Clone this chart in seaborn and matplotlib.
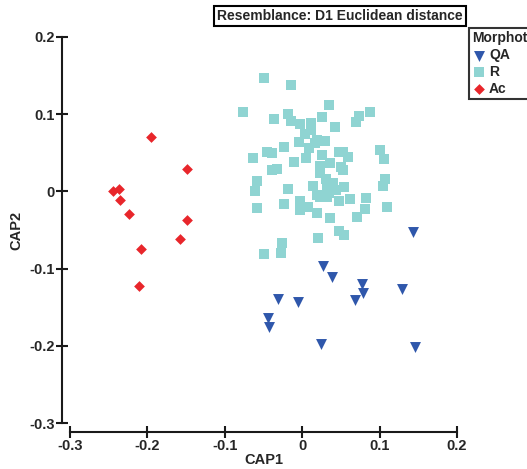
import numpy as np
import pandas as pd
import matplotlib
matplotlib.use("Agg")
import matplotlib.pyplot as plt
import seaborn as sns

# ---- data ----
qa_x = [0.143, 0.027, 0.039, 0.077, 0.078, 0.129, 0.068, -0.031, -0.006, -0.044, -0.043, 0.024, 0.146]
qa_y = [-0.052, -0.096, -0.111, -0.120, -0.131, -0.126, -0.141, -0.139, -0.143, -0.164, -0.176, -0.198, -0.202]

r_x = [-0.049, -0.014, -0.076, -0.037, -0.018, -0.014, -0.003, 0.012, 0.025, 0.035,
       0.043, 0.074, 0.088, 0.070, 0.004, 0.012, 0.019, 0.030, -0.004, -0.023,
       0.009, 0.017, -0.063, -0.045, -0.039, -0.010, 0.005, 0.026, 0.048, 0.053,
       0.059, 0.101, 0.106, 0.036, 0.023, 0.023, 0.050, 0.053, -0.039, -0.032,
       -0.059, -0.061, -0.018, 0.014, 0.031, 0.032, 0.040, 0.044, 0.054, 0.107,
       0.105, 0.023, 0.032, 0.034, 0.019, -0.003, 0.000, 0.008, -0.023, 0.048,
       0.062, 0.083, -0.058, -0.003, 0.019, 0.109, 0.081, 0.071, 0.036, 0.047,
       0.054, 0.021, -0.026, -0.028, -0.049]
r_y = [0.147, 0.138, 0.103, 0.094, 0.100, 0.091, 0.087, 0.089, 0.096, 0.112,
       0.083, 0.098, 0.103, 0.090, 0.074, 0.080, 0.067, 0.065, 0.064, 0.058,
       0.056, 0.063, 0.043, 0.051, 0.050, 0.038, 0.043, 0.047, 0.051, 0.051,
       0.045, 0.054, 0.042, 0.037, 0.033, 0.024, 0.032, 0.028, 0.028, 0.029,
       0.013, 0.001, 0.003, 0.007, 0.016, 0.006, 0.011, 0.002, 0.006, 0.016,
       0.007, -0.007, -0.007, -0.002, -0.005, -0.012, -0.020, -0.020, -0.016, -0.012,
       -0.010, -0.009, -0.021, -0.024, -0.028, -0.020, -0.023, -0.033, -0.034, -0.051,
       -0.056, -0.060, -0.067, -0.080, -0.081]

ac_x = [-0.195, -0.149, -0.245, -0.237, -0.235, -0.224, -0.149, -0.158, -0.208, -0.211]
ac_y = [0.070, 0.029, 0.000, 0.003, -0.011, -0.029, -0.037, -0.062, -0.074, -0.122]

groups = ["QA", "R", "Ac"]
colors = {"QA": "#2f57ab", "R": "#8fd4d2", "Ac": "#e8262b"}
markers = {"QA": "v", "R": "s", "Ac": "D"}
sizes = {"QA": 62, "R": 50, "Ac": 30}

ticks = [-0.3, -0.2, -0.1, 0, 0.1, 0.2]
tick_labels = ["-0.3", "-0.2", "-0.1", "0", "0.1", "0.2"]

df = pd.concat([
    pd.DataFrame({"CAP1": qa_x, "CAP2": qa_y, "Morphotype": "QA"}),
    pd.DataFrame({"CAP1": r_x, "CAP2": r_y, "Morphotype": "R"}),
    pd.DataFrame({"CAP1": ac_x, "CAP2": ac_y, "Morphotype": "Ac"}),
], ignore_index=True)

sns.set_theme(style="white")
plt.rcParams["font.family"] = ["Liberation Sans", "DejaVu Sans"]
plt.rcParams["font.weight"] = "bold"

W, H = 527, 469
fig = plt.figure(figsize=(W / 100, H / 100), dpi=100)
ax = fig.add_axes([70 / W, 46 / H, 387 / W, 386 / H])

for g in groups:
    sub = df[df["Morphotype"] == g]
    sns.scatterplot(data=sub, x="CAP1", y="CAP2", ax=ax, color=colors[g],
                    marker=markers[g], s=sizes[g], linewidth=0, label=g,
                    zorder=3 if g != "R" else 2)

ax.set_xlim(-0.3, 0.2)
ax.set_ylim(-0.3, 0.2)
ax.set_xticks(ticks)
ax.set_xticklabels(tick_labels)
ax.set_yticks(ticks)
ax.set_yticklabels(tick_labels)

sns.despine(ax=ax, offset={"left": 6, "bottom": 6.5})
for side in ["left", "bottom"]:
    ax.spines[side].set_linewidth(1.5)
    ax.spines[side].set_color("#1a1a1a")
ax.tick_params(axis="both", which="major", direction="inout", length=8, width=1.5,
               color="#1a1a1a", labelsize=10.5, pad=1, left=True, bottom=True)
for lab in ax.get_xticklabels() + ax.get_yticklabels():
    lab.set_fontweight("bold")

ax.set_xlabel("CAP1", fontsize=10.5, fontweight="bold", labelpad=0)
ax.set_ylabel("CAP2", fontsize=10.5, fontweight="bold", labelpad=4)

fig.text(340 / W, 1 - 16 / H, "Resemblance: D1 Euclidean distance", ha="center", va="center",
         fontsize=10, fontweight="bold",
         bbox=dict(boxstyle="square,pad=0.2", fc="white", ec="black", lw=1.5))

leg = ax.legend(loc="upper left", bbox_to_anchor=(469 / W, 1 - 28 / H), bbox_transform=fig.transFigure,
                title="Morphotype", frameon=True, fancybox=False, fontsize=10,
                title_fontproperties={"weight": "bold", "size": 10}, alignment="left",
                borderpad=0.25, labelspacing=0.2, handletextpad=0.2, handlelength=1.0,
                borderaxespad=0)
leg.get_frame().set_edgecolor("black")
leg.get_frame().set_linewidth(1.5)
for t in leg.get_texts():
    t.set_fontweight("bold")

fig.savefig("out.png", dpi=100)
